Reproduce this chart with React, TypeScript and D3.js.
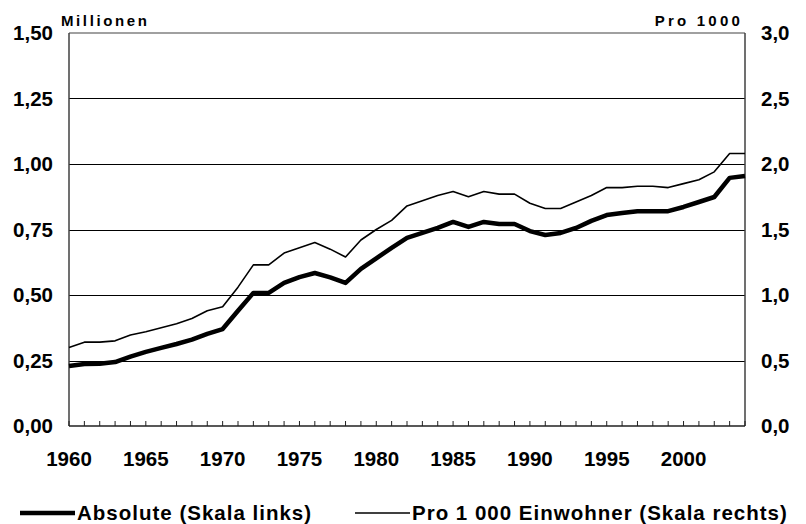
import React, { useRef, useEffect } from "react";
import * as d3 from "d3";

const years = d3.range(1960, 2005);

// Absolute, millions (left scale)
const absolute = [
    0.229, 0.237, 0.238, 0.244, 0.265, 0.283, 0.298, 0.313, 0.33, 0.352,
    0.37, 0.44, 0.508, 0.508, 0.546, 0.568, 0.584, 0.567, 0.546, 0.6,
    0.64, 0.68, 0.718, 0.737, 0.756, 0.779, 0.76, 0.779, 0.771, 0.771,
    0.744, 0.729, 0.737, 0.756, 0.783, 0.805, 0.813, 0.82, 0.82, 0.82,
    0.836, 0.855, 0.874, 0.947, 0.954,
];

// Per 1000 inhabitants (right scale)
const perThousand = [
    0.6, 0.64, 0.64, 0.65, 0.695, 0.72, 0.75, 0.78, 0.82, 0.88,
    0.91, 1.06, 1.23, 1.23, 1.32, 1.36, 1.4, 1.35, 1.29, 1.42,
    1.5, 1.57, 1.68, 1.72, 1.76, 1.79, 1.75, 1.79, 1.77, 1.77,
    1.7, 1.66, 1.66, 1.71, 1.76, 1.82, 1.82, 1.83, 1.83, 1.82,
    1.85, 1.88, 1.94, 2.08, 2.08,
];

const leftTicks = [0, 0.25, 0.5, 0.75, 1, 1.25, 1.5];
const rightTicks = [0, 0.5, 1, 1.5, 2, 2.5, 3];
const yearLabels = [1960, 1965, 1970, 1975, 1980, 1985, 1990, 1995, 2000];

const FONT = "'Liberation Sans', Arial, sans-serif";

const App: React.FC = () => {
    const svgRef = useRef<SVGSVGElement>(null);

    useEffect(() => {
        const svgElement = svgRef.current;
        if (!svgElement) return;

        const width = 806;
        const height = 524;
        const margin = { top: 33, right: 61, bottom: 98, left: 69 };

        const svg = d3.select(svgElement);
        svg.selectAll("*").remove();

        const x = d3
            .scaleLinear()
            .domain([1960, 2004])
            .range([margin.left, width - margin.right]);
        const yLeft = d3
            .scaleLinear()
            .domain([0, 1.5])
            .range([height - margin.bottom, margin.top]);
        const yRight = d3
            .scaleLinear()
            .domain([0, 3])
            .range([height - margin.bottom, margin.top]);

        const x0 = x.range()[0];
        const x1 = x.range()[1];
        const yBottom = yLeft(0);
        const yTop = yLeft(1.5);

        // gridlines
        svg.append("g")
            .selectAll("line")
            .data(leftTicks.filter((t) => t > 0 && t < 1.5))
            .join("line")
            .attr("x1", x0)
            .attr("x2", x1)
            .attr("y1", (d) => Math.round(yLeft(d)) + 0.5)
            .attr("y2", (d) => Math.round(yLeft(d)) + 0.5)
            .attr("stroke", "#000")
            .attr("stroke-width", 1);

        // frame
        svg.append("line")
            .attr("x1", x0).attr("x2", x1)
            .attr("y1", yTop).attr("y2", yTop)
            .attr("stroke", "#808080").attr("stroke-width", 1.5);
        svg.append("line")
            .attr("x1", x0).attr("x2", x0)
            .attr("y1", yTop).attr("y2", yBottom)
            .attr("stroke", "#404040").attr("stroke-width", 1.5);
        svg.append("line")
            .attr("x1", x1).attr("x2", x1)
            .attr("y1", yTop).attr("y2", yBottom)
            .attr("stroke", "#404040").attr("stroke-width", 1.5);
        svg.append("line")
            .attr("x1", x0).attr("x2", x1)
            .attr("y1", yBottom).attr("y2", yBottom)
            .attr("stroke", "#202020").attr("stroke-width", 1.5);

        // year ticks (inward)
        svg.append("g")
            .selectAll("line")
            .data(years)
            .join("line")
            .attr("x1", (d) => x(d))
            .attr("x2", (d) => x(d))
            .attr("y1", yBottom)
            .attr("y2", yBottom - 5)
            .attr("stroke", "#202020")
            .attr("stroke-width", 1);

        // left axis labels
        svg.append("g")
            .selectAll("text")
            .data(leftTicks)
            .join("text")
            .attr("x", 53)
            .attr("y", (d) => yLeft(d))
            .attr("dy", "0.36em")
            .attr("text-anchor", "end")
            .attr("font-family", FONT)
            .attr("font-weight", "bold")
            .attr("font-size", 20.5)
            .text((d) => d3.format(".2f")(d).replace(".", ","));

        // right axis labels
        svg.append("g")
            .selectAll("text")
            .data(rightTicks)
            .join("text")
            .attr("x", 761)
            .attr("y", (d) => yRight(d))
            .attr("dy", "0.36em")
            .attr("text-anchor", "start")
            .attr("font-family", FONT)
            .attr("font-weight", "bold")
            .attr("font-size", 20.5)
            .text((d) => d3.format(".1f")(d).replace(".", ","));

        // year labels
        svg.append("g")
            .selectAll("text")
            .data(yearLabels)
            .join("text")
            .attr("x", (d) => x(d))
            .attr("y", 466)
            .attr("text-anchor", "middle")
            .attr("font-family", FONT)
            .attr("font-weight", "bold")
            .attr("font-size", 20.5)
            .text((d) => String(d));

        // unit titles
        svg.append("text")
            .attr("x", 61)
            .attr("y", 26)
            .attr("font-family", FONT)
            .attr("font-weight", "bold")
            .attr("font-size", 15)
            .attr("letter-spacing", 2.6)
            .text("Millionen");
        svg.append("text")
            .attr("x", 743)
            .attr("y", 26)
            .attr("text-anchor", "end")
            .attr("font-family", FONT)
            .attr("font-weight", "bold")
            .attr("font-size", 15)
            .attr("letter-spacing", 3.2)
            .text("Pro 1000");

        // series lines
        const lineAbs = d3
            .line<number>()
            .x((_, i) => x(years[i]))
            .y((d) => yLeft(d));
        const linePer = d3
            .line<number>()
            .x((_, i) => x(years[i]))
            .y((d) => yRight(d));

        svg.append("path")
            .datum(perThousand)
            .attr("d", linePer)
            .attr("fill", "none")
            .attr("stroke", "#000")
            .attr("stroke-width", 1.6)
            .attr("stroke-linejoin", "round");
        svg.append("path")
            .datum(absolute)
            .attr("d", lineAbs)
            .attr("fill", "none")
            .attr("stroke", "#000")
            .attr("stroke-width", 4.5)
            .attr("stroke-linejoin", "round");

        // legend
        const legend = [
            { label: "Absolute (Skala links)", width: 4.5, lx: 20 },
            { label: "Pro 1 000 Einwohner (Skala rechts)", width: 1.6, lx: 355 },
        ];
        const lg = svg.append("g");
        legend.forEach((item) => {
            lg.append("line")
                .attr("x1", item.lx)
                .attr("x2", item.lx + 55)
                .attr("y1", 513)
                .attr("y2", 513)
                .attr("stroke", "#000")
                .attr("stroke-width", item.width);
            lg.append("text")
                .attr("x", item.lx + 57)
                .attr("y", 520)
                .attr("font-family", FONT)
                .attr("font-weight", "bold")
                .attr("font-size", 20.5)
                .attr("letter-spacing", 1)
                .text(item.label);
        });
    }, []);

    return (
        <svg
            ref={svgRef}
            width={806}
            height={524}
            style={{ position: "absolute", left: 0, top: 0, background: "#fff" }}
        ></svg>
    );
};

export default App;
